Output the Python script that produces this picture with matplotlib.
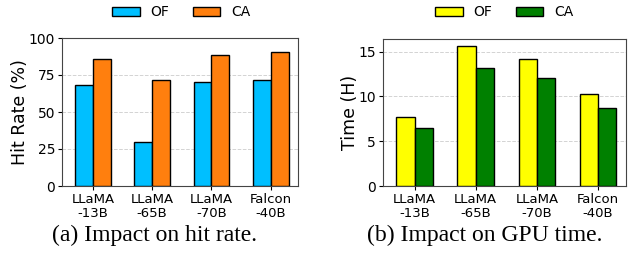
import numpy as np
import matplotlib.pyplot as plt
from matplotlib.patches import Patch

models = ['LLaMA\n-13B', 'LLaMA\n-65B', 'LLaMA\n-70B', 'Falcon\n-40B']
hit_of = [68.2, 29.7, 70.4, 71.9]
hit_ca = [85.5, 71.3, 88.4, 90.4]
time_of = [7.72, 15.62, 14.12, 10.25]
time_ca = [6.48, 13.18, 12.1, 8.72]

fig = plt.figure(figsize=(6.36, 2.58), dpi=100)
W, H = 636, 258
ax1 = fig.add_axes([62 / W, 72 / H, 236 / W, 148 / H])
ax2 = fig.add_axes([383 / W, 72 / H, 243 / W, 147 / H])

x = np.arange(len(models))
w = 0.3


def draw(ax, a, b, ca, cb, ylabel, ylim, ticks, cap, capx, legx):
    ax.bar(x - w / 2, a, w, color=ca, edgecolor='black', linewidth=1, zorder=3)
    ax.bar(x + w / 2, b, w, color=cb, edgecolor='black', linewidth=1, zorder=3)
    ax.set_xticks(x)
    ax.set_xticklabels(models, fontsize=9.5, linespacing=1.15)
    ax.set_yticks(ticks)
    ax.tick_params(axis='both', labelsize=10, length=3, pad=2)
    ax.tick_params(axis='x', labelsize=9.5)
    ax.set_ylim(*ylim)
    ax.set_xlim(-0.52, 3.46)
    ax.set_ylabel(ylabel, fontsize=12.5, labelpad=-0.5)
    ax.grid(axis='y', ls='--', color='lightgray', lw=0.7, zorder=0)
    for s in ax.spines.values():
        s.set_color('#444444')
    h = [Patch(facecolor=ca, edgecolor='black'), Patch(facecolor=cb, edgecolor='black')]
    fig.legend(h, ['OF', 'CA'], loc='center', bbox_to_anchor=(legx / W, 1 - 12 / H),
               ncol=2, frameon=False, fontsize=10, handlelength=2.0, handleheight=0.6,
               columnspacing=1.7, handletextpad=0.75)
    fig.text(capx / W, 1 - 235 / H, cap, ha='center', va='center',
             fontsize=17, family='Liberation Serif')


draw(ax1, hit_of, hit_ca, '#00BFFF', '#FF7F0E', 'Hit Rate (%)', (0, 100),
     [0, 25, 50, 75, 100], '(a) Impact on hit rate.', 155, 181)
draw(ax2, time_of, time_ca, '#FFFF00', '#008000', 'Time (H)', (0, 16.4),
     [0, 5, 10, 15], '(b) Impact on GPU time.', 485, 504)

fig.savefig('out.png', dpi=100)
